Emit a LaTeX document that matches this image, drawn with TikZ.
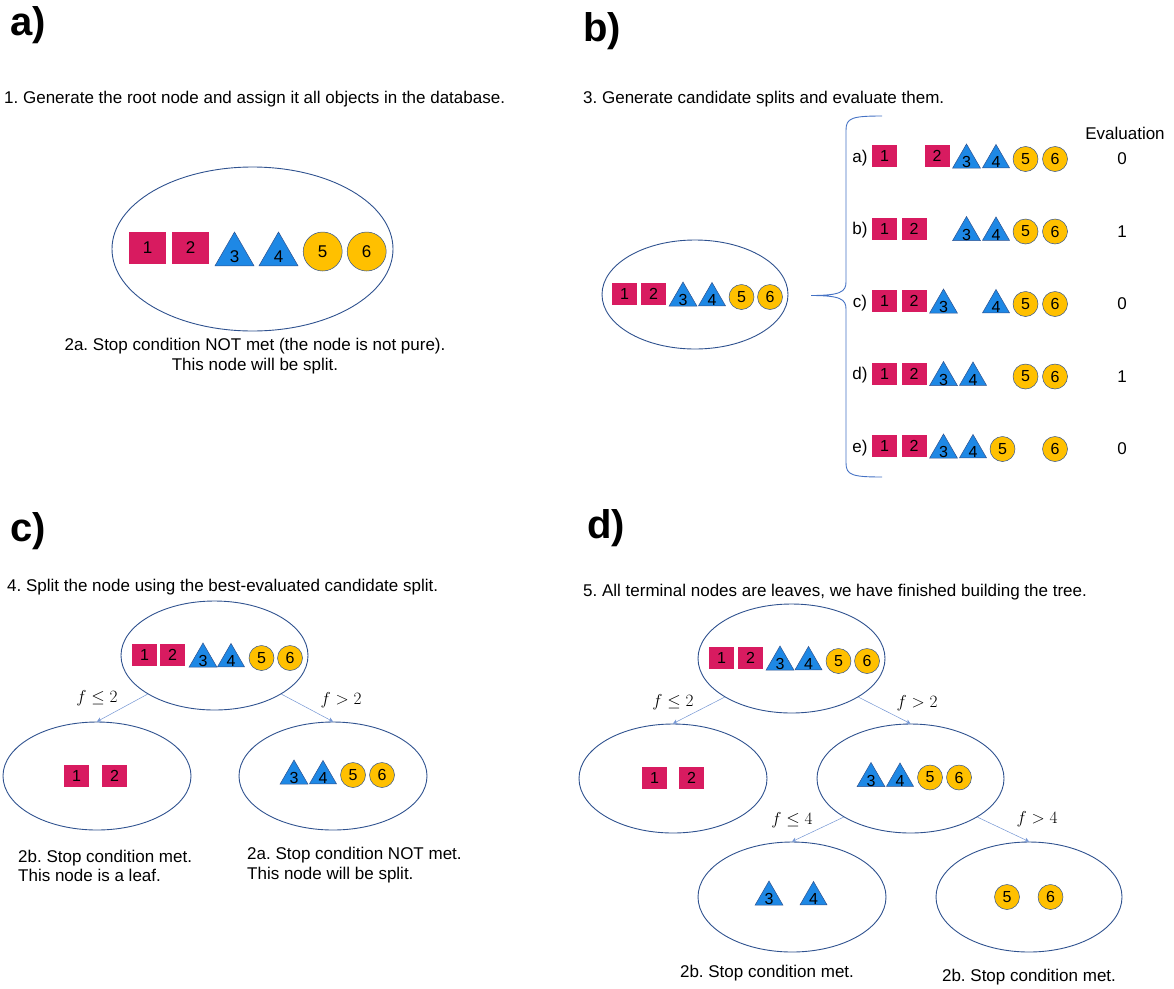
\documentclass[tikz,border=0pt]{standalone}
\usepackage{fontspec}
\setmainfont{Liberation Sans}
\usetikzlibrary{shapes.geometric}
\usetikzlibrary{arrows.meta}
\definecolor{crim}{RGB}{216,27,96}
\definecolor{triblue}{RGB}{30,136,229}
\definecolor{gold}{RGB}{255,192,0}
\definecolor{rim}{RGB}{47,82,143}
\definecolor{lineblue}{RGB}{68,114,196}
\frenchspacing

\begin{document}
\begin{tikzpicture}[x=1pt,y=-1pt,
    txt/.style={font=\fontsize{17}{19.5}\selectfont,inner sep=0},
    panel/.style={font=\fontsize{40}{40}\selectfont\bfseries,inner sep=0,anchor=west},
    nd/.style={ellipse,draw=rim,line width=0.9pt,inner sep=0},
    num/.style={font=\fontsize{16}{16}\selectfont,inner sep=0},
    sqr/.style={num,fill=crim,minimum width=25,minimum height=22},
    tri/.style={num,regular polygon,regular polygon sides=3,fill=triblue,draw=rim,line width=0.5pt,minimum size=30,yshift=-4pt,
      execute at begin node={\setbox0=\hbox\bgroup},
      execute at end node={\egroup\raisebox{-2pt}[\ht0][\dp0]{\copy0}}},
    crc/.style={num,circle,fill=gold,draw=rim,line width=0.5pt,minimum size=25,yshift=-3pt},
    branch/.style={draw=lineblue!75,line width=0.5pt,-{Stealth[length=4.5pt,width=4.5pt]}}]
    \useasboundingbox (0,0) rectangle (1174,988);

    % panel labels
    \node[panel] (labA) at (10,25) {a)};
    \node[panel] (labB) at (583,31) {b)};
    \node[panel] (labC) at (10,531) {c)};
    \node[panel] (labD) at (587,528) {d)};

    % a) root node
    \node[txt,anchor=west] (stepA) at (4,99) {1. Generate the root node and assign it all objects in the database.};
    \node[nd,minimum width=281,minimum height=164] (rootA) at (252.5,249) {};
    \foreach \i/\x in {1/147.5,2/190.5}
        \node[sqr,minimum width=37,minimum height=32,font=\fontsize{17}{17}\selectfont] (A\i) at (\x,248) {\i};
    \foreach \i/\x in {3/234.5,4/278.5}
        \node[tri,minimum size=45,yshift=-2.5pt,font=\fontsize{17}{17}\selectfont] (A\i) at (\x,248) {\i};
    \foreach \i/\x in {5/322.7,6/366.7}
        \node[crc,minimum size=39,yshift=-0.5pt,font=\fontsize{17}{17}\selectfont] (A\i) at (\x,248) {\i};
    \node[txt,align=center] (noteA) at (255,356) {2a. Stop condition NOT met (the node is not pure).\\This node will be split.};

    % b) candidate splits
    \node[txt,anchor=west] (stepB) at (583,99) {3. Generate candidate splits and evaluate them.};
    \node[nd,minimum width=186,minimum height=109] (rootB) at (695,294.5) {};
    \foreach \i/\s/\x in {1/sqr/624.5,2/sqr/653.5,3/tri/683,4/tri/712,5/crc/741.5,6/crc/770}
        \node[\s] (B\i) at (\x,294) {\i};
    \draw[lineblue,line width=0.9pt] (882,116) .. controls (852,116) and (846,118) .. (846,130) -- (846,282)
        .. controls (846,292) and (840,295.5) .. (811,295.5)
        .. controls (840,295.5) and (846,299) .. (846,309) -- (846,463)
        .. controls (846,475) and (852,477) .. (882,477);
    \node[txt] (evalhead) at (1125,133) {Evaluation};
    \foreach \r/\y/\k/\v in {a/156/1/0,b/228.5/2/1,c/301/3/0,d/373.5/4/1,e/446/5/0}{
        \node[txt] (lab\r) at (860,\y+2) {\r)};
        \node[txt] (val\r) at (1122,\y+3) {\v};
        \foreach \i/\s in {1/sqr,2/sqr,3/tri,4/tri,5/crc,6/crc}{
            \pgfmathsetmacro\px{\i<=\k ? 884.5+29.5*(\i-1) : 1055-29.5*(6-\i)}
            \node[\s] (split\r\i) at (\px,\y) {\i};
        }
    }

    % c) first split
    \node[txt,anchor=west] (stepC) at (7,587) {4. Split the node using the best-evaluated candidate split.};
    \node[nd,minimum width=187,minimum height=109] (topC) at (214.5,655.5) {};
    \foreach \i/\s/\x in {1/sqr/144.5,2/sqr/172.5,3/tri/203,4/tri/231,5/crc/261.5,6/crc/290}
        \node[\s] (C\i) at (\x,655) {\i};
    \node[nd,minimum width=188,minimum height=108] (leftC) at (97,776) {};
    \foreach \i/\x in {1/76.5,2/114.5}
        \node[sqr] (CL\i) at (\x,775.5) {\i};
    \node[nd,minimum width=188,minimum height=108] (rightC) at (333,776) {};
    \foreach \i/\s/\x in {3/tri/294,4/tri/323,5/crc/353,6/crc/382}
        \node[\s] (CR\i) at (\x,772) {\i};
    \draw[branch] (topC.210) -- (leftC.north);
    \draw[branch] (topC.330) -- (rightC.north);
    \node[txt] (condCL) at (97,698) {$f\le 2$};
    \node[txt] (condCR) at (341,700) {$f>2$};
    \node[txt,align=left,anchor=west] (noteCL) at (18,866) {2b. Stop condition met.\\This node is a leaf.};
    \node[txt,align=left,anchor=west] (noteCR) at (247,865) {2a. Stop condition NOT met.\\This node will be split.};

    % d) finished tree
    \node[txt,anchor=west] (stepD) at (583,592) {5. All terminal nodes are leaves, we have finished building the tree.};
    \node[nd,minimum width=187,minimum height=109] (topD) at (791.5,658.5) {};
    \foreach \i/\s/\x in {1/sqr/721.5,2/sqr/750.5,3/tri/780,4/tri/808.5,5/crc/838.5,6/crc/867}
        \node[\s] (D\i) at (\x,658) {\i};
    \node[nd,minimum width=188,minimum height=109] (leftD) at (673,778.5) {};
    \foreach \i/\x in {1/654.5,2/691.5}
        \node[sqr] (DL\i) at (\x,778) {\i};
    \node[nd,minimum width=187,minimum height=109] (midD) at (910.5,778.5) {};
    \foreach \i/\s/\x in {3/tri/871,4/tri/900,5/crc/930,6/crc/959}
        \node[\s] (DM\i) at (\x,774.5) {\i};
    \node[nd,minimum width=188,minimum height=110] (lowD) at (792,897) {};
    \foreach \i/\x in {3/769,4/813.5}
        \node[tri] (DB\i) at (\x,893) {\i};
    \node[nd,minimum width=186,minimum height=110] (highD) at (1029,897) {};
    \foreach \i/\x in {5/1007,6/1050.5}
        \node[crc] (DH\i) at (\x,894) {\i};
    \draw[branch] (topD.210) -- (leftD.north);
    \draw[branch] (topD.330) -- (midD.north);
    \draw[branch] (midD.210) -- (lowD.north);
    \draw[branch] (midD.330) -- (highD.north);
    \node[txt] (condDL) at (673,702) {$f\le 2$};
    \node[txt] (condDR) at (917,703) {$f>2$};
    \node[txt] (condML) at (792,820) {$f\le 4$};
    \node[txt] (condMR) at (1037,819) {$f>4$};
    \node[txt] (noteDL) at (767,973) {2b. Stop condition met.};
    \node[txt] (noteDR) at (1029,977) {2b. Stop condition met.};
\end{tikzpicture}
\end{document}
